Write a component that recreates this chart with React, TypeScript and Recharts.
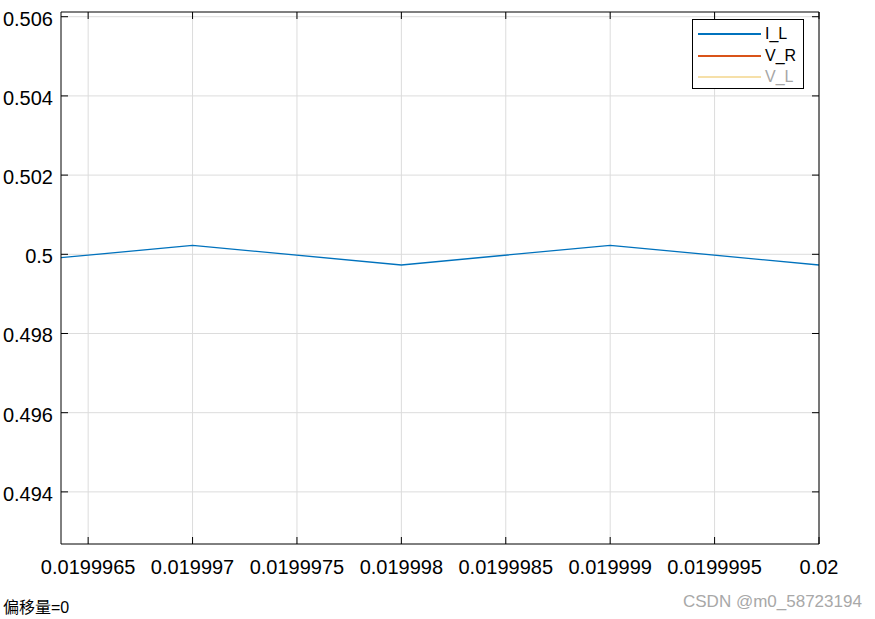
import React from "react";
import {
  LineChart,
  Line,
  XAxis,
  YAxis,
  CartesianGrid,
} from "recharts";

// sample times (s) and inductor current
const times = [0.019996, 0.019997, 0.019998, 0.019999, 0.02];
const iL = [0.49973, 0.500227, 0.49973, 0.500227, 0.49973];

const xTicks = [0.0199965, 0.019997, 0.0199975, 0.019998, 0.0199985, 0.019999, 0.0199995, 0.02];
const xTickLabels = ["0.0199965", "0.019997", "0.0199975", "0.019998", "0.0199985", "0.019999", "0.0199995", "0.02"];
const yTicks = [0.494, 0.496, 0.498, 0.5, 0.502, 0.504, 0.506];
const yTickLabels = ["0.494", "0.496", "0.498", "0.5", "0.502", "0.504", "0.506"];

const legendNames = ["I_L", "V_R", "V_L"];
const legendColors = ["#0072BD", "#D95319", "#F6E0A9"];
const legendTextColors = ["#000", "#000", "#A6A6A6"];

const xDomain = [0.01999637, 0.02];
const yDomain = [0.492684, 0.506119];

const data = times.map((t, i) => ({ t, IL: iL[i] }));

const FONT = "'Liberation Sans', Arial, sans-serif";

const findLabel = (v: number, ticks: number[], labels: string[]) => {
  const i = ticks.findIndex((k) => Math.abs(k - v) < 1e-12);
  return i >= 0 ? labels[i] : String(v);
};

const BottomTick = (props: any) => {
  const { x, y, payload } = props;
  return (
    <g>
      <line x1={x} x2={x} y1={y} y2={y - 7} stroke="#000" />
      <text x={x} y={y + 23} textAnchor="middle" dominantBaseline="central" fontSize={20} fontFamily={FONT} fill="#000">
        {findLabel(payload.value, xTicks, xTickLabels)}
      </text>
    </g>
  );
};

const LeftTick = (props: any) => {
  const { x, y, payload } = props;
  return (
    <g>
      <line x1={x} x2={x + 7} y1={y} y2={y} stroke="#000" />
      <text x={x - 8} y={y + 2} textAnchor="end" dominantBaseline="central" fontSize={20} fontFamily={FONT} fill="#000">
        {findLabel(payload.value, yTicks, yTickLabels)}
      </text>
    </g>
  );
};

const TopTick = (props: any) => {
  const { x, y } = props;
  return <line x1={x} x2={x} y1={y} y2={y + 7} stroke="#000" />;
};

const RightTick = (props: any) => {
  const { x, y } = props;
  return <line x1={x} x2={x - 7} y1={y} y2={y} stroke="#000" />;
};

const LegendBox = () => (
  <div
    style={{
      position: "absolute",
      left: 692,
      top: 19,
      width: 110,
      height: 68,
      border: "1px solid #000",
      background: "#fff",
      fontFamily: FONT,
      fontSize: 16,
    }}
  >
    {legendNames.map((name, i) => (
      <div
        key={name}
        style={{ position: "absolute", left: 0, top: 5 + i * 21.5, height: 18, display: "flex", alignItems: "center" }}
      >
        <div style={{ marginLeft: 5, width: 63, height: 2, background: legendColors[i] }} />
        <span style={{ marginLeft: 4, color: legendTextColors[i] }}>{name}</span>
      </div>
    ))}
  </div>
);

const App = () => {
  return (
    <div style={{ position: "absolute", left: 0, top: 0, width: 875, height: 619, background: "#fff" }}>
      <LineChart width={875} height={619} data={data} margin={{ top: 11, right: 55, bottom: 74, left: 60 }}>
        <CartesianGrid stroke="#dcdcdc" horizontalValues={yTicks} verticalValues={xTicks} />
        <XAxis
          dataKey="t"
          type="number"
          domain={xDomain}
          allowDataOverflow
          ticks={xTicks}
          height={1}
          tickSize={0}
          tickMargin={0}
          tickLine={false}
          axisLine={{ stroke: "#000" }}
          tick={<BottomTick />}
          interval={0}
        />
        <XAxis
          xAxisId="top"
          orientation="top"
          dataKey="t"
          type="number"
          domain={xDomain}
          allowDataOverflow
          ticks={xTicks}
          height={1}
          tickSize={0}
          tickMargin={0}
          tickLine={false}
          axisLine={{ stroke: "#000" }}
          tick={<TopTick />}
          interval={0}
        />
        <YAxis
          type="number"
          domain={yDomain}
          allowDataOverflow
          ticks={yTicks}
          width={1}
          tickSize={0}
          tickMargin={0}
          tickLine={false}
          axisLine={{ stroke: "#000" }}
          tick={<LeftTick />}
          interval={0}
        />
        <YAxis
          yAxisId="right"
          orientation="right"
          type="number"
          domain={yDomain}
          allowDataOverflow
          ticks={yTicks}
          width={1}
          tickSize={0}
          tickMargin={0}
          tickLine={false}
          axisLine={{ stroke: "#000" }}
          tick={<RightTick />}
          interval={0}
        />
        <Line
          type="linear"
          dataKey="IL"
          name="I_L"
          stroke="#0072BD"
          strokeWidth={1.3}
          dot={false}
          isAnimationActive={false}
        />
      </LineChart>
      <LegendBox />
      <div
        style={{
          position: "absolute",
          left: 3,
          top: 594,
          fontFamily: "'Liberation Sans', 'Noto Sans CJK SC', sans-serif",
          fontSize: 16,
          color: "#000",
          whiteSpace: "nowrap",
        }}
      >
        偏移量=0
      </div>
      <div
        style={{
          position: "absolute",
          left: 683,
          top: 592,
          fontFamily: FONT,
          fontSize: 17,
          color: "#a8a8a8",
          whiteSpace: "nowrap",
        }}
      >
        CSDN @m0_58723194
      </div>
    </div>
  );
};

export default App;
